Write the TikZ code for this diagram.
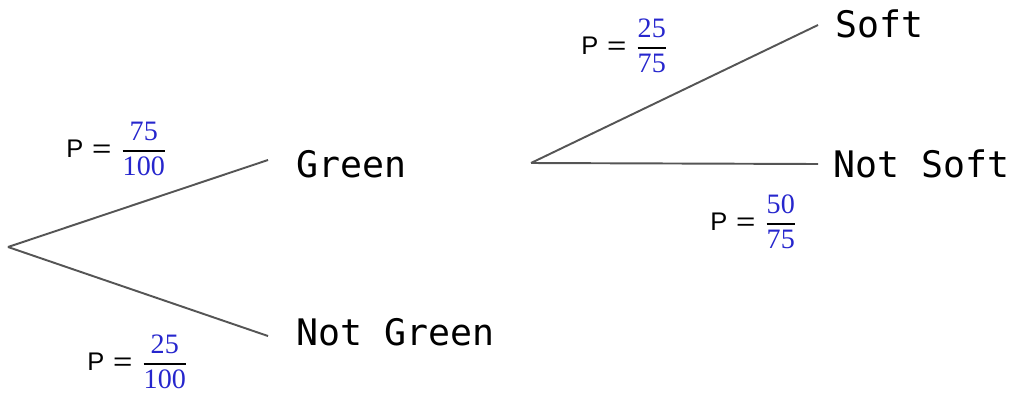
\documentclass[tikz,border=0pt]{standalone}
\usepackage{fontspec}
\usepackage{amsmath}
\usepackage{graphicx}
\setmonofont{DejaVu Sans Mono}
\newfontfamily\plabfont{Liberation Sans}
\newfontfamily\pnumfont{Liberation Serif}
\definecolor{fracblue}{RGB}{38,38,205}
\definecolor{linegray}{RGB}{85,85,85}
\newcommand{\probfrac}[2]{{\plabfont P\hspace{5pt}\scalebox{1.3}[1]{=}\hspace{5.2pt}}$\genfrac{}{}{1pt}{0}%
  {\hbox{\fontsize{16}{19}\pnumfont\color{fracblue}#1}}%
  {\hbox{\fontsize{16}{19}\pnumfont\color{fracblue}#2}}$}
\usetikzlibrary{positioning}

\begin{document}
\begin{tikzpicture}[x=0.02cm, y=-0.02cm,
      leaf/.style={anchor=base west, inner sep=0pt,
                   font=\fontsize{20.8}{24}\ttfamily},
      plab/.style={anchor=west, inner sep=0pt,
                   font=\fontsize{14.5}{17}\plabfont},
      branch/.style={line width=1.1pt, color=linegray}
  ]
    \useasboundingbox (0,0) rectangle (1017,393);
    % first tree
    \coordinate (r1) at (8,247);
    \coordinate (gtip) at (268,160);
    \coordinate (ngtip) at (268,336);
    \node[leaf] (green) at (296,177) {Green};
    \node[leaf] (notgreen) at (296,345) {Not Green};
    \draw[branch] (r1)--(gtip); \draw[branch] (r1)--(ngtip);
    \node[plab] (pgreen) at (66,149) {\probfrac{75}{100}};
    \node[plab] (pnotgreen) at (87,362) {\probfrac{25}{100}};
    % second tree
    \coordinate (r2) at (531,163);
    \coordinate (stip) at (818,25);
    \coordinate (nstip) at (818,164);
    \node[leaf] (soft) at (835,37) {Soft};
    \node[leaf] (notsoft) at (833,177) {Not Soft};
    \draw[branch] (r2)--(stip); \draw[branch] (r2)--(nstip);
    \node[plab] (psoft) at (581,46) {\probfrac{25}{75}};
    \node[plab] (pnotsoft) at (710,222) {\probfrac{50}{75}};
  \end{tikzpicture}
\end{document}
